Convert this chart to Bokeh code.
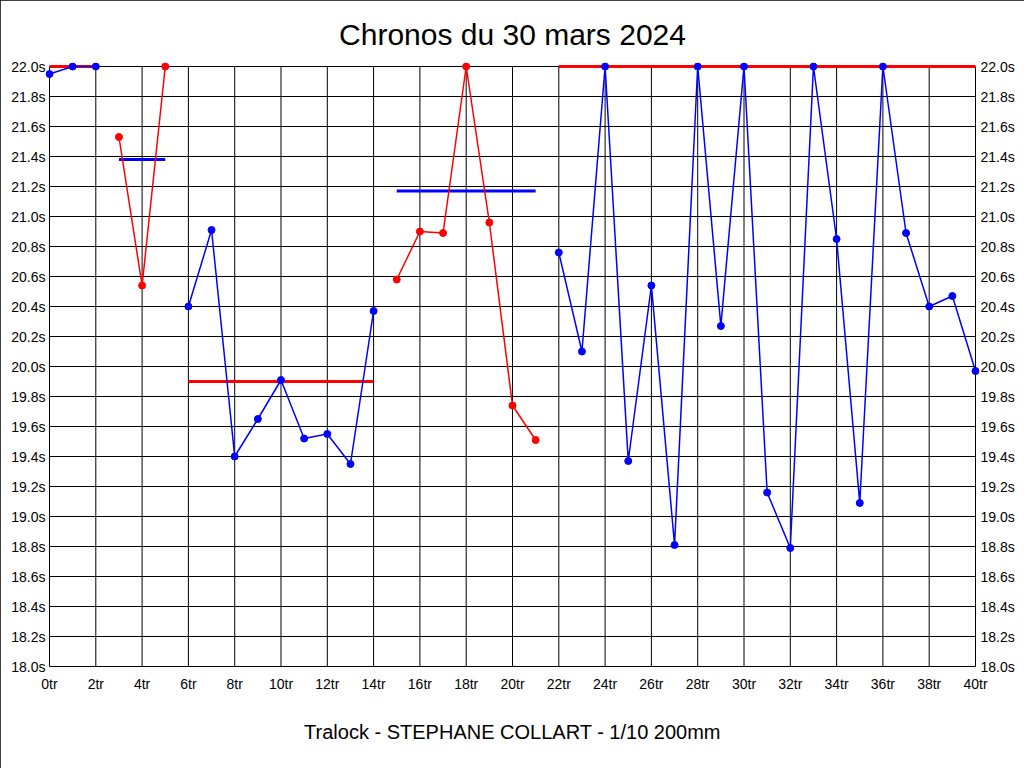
from bokeh.plotting import figure
from bokeh.models import FixedTicker, PrintfTickFormatter, LinearAxis, Title, Range1d
from bokeh.embed import file_html
from bokeh.resources import INLINE

# ---------------- data (lap number, lap time in seconds, capped at 22.0 on the chart) -------------
seg1_laps = [0, 1, 2]
seg1_times = [21.95, 22.0, 22.0]
seg1_avg = 22.0

seg2_laps = [3, 4, 5]
seg2_times = [21.53, 20.54, 22.0]
seg2_avg = 21.38

seg3_laps = [6, 7, 8, 9, 10, 11, 12, 13, 14]
seg3_times = [20.40, 20.91, 19.40, 19.65, 19.91, 19.52, 19.55, 19.35, 20.37]
seg3_avg = 19.90

seg4_laps = [15, 16, 17, 18, 19, 20, 21]
seg4_times = [20.58, 20.90, 20.89, 22.0, 20.96, 19.74, 19.51]
seg4_avg = 21.17

seg5_laps = [22, 23, 24, 25, 26, 27, 28, 29, 30, 31, 32, 33, 34, 35, 36, 37, 38, 39, 40]
seg5_times = [20.76, 20.10, 22.0, 19.37, 20.54, 18.81, 22.0, 20.27, 22.0, 19.16,
              18.79, 22.0, 20.85, 19.09, 22.0, 20.89, 20.40, 20.47, 19.97]
seg5_avg = 22.0

x_ticks = [0, 2, 4, 6, 8, 10, 12, 14, 16, 18, 20, 22, 24, 26, 28, 30, 32, 34, 36, 38, 40]
y_ticks = [18.0, 18.2, 18.4, 18.6, 18.8, 19.0, 19.2, 19.4, 19.6, 19.8,
           20.0, 20.2, 20.4, 20.6, 20.8, 21.0, 21.2, 21.4, 21.6, 21.8, 22.0]

title_text = "Chronos du 30 mars 2024"
footer_text = "Tralock - STEPHANE COLLART - 1/10 200mm"

BLUE = "#0000ff"
RED = "#ff0000"

segments = [
    (seg1_laps, seg1_times, BLUE, seg1_avg, RED),
    (seg2_laps, seg2_times, RED, seg2_avg, BLUE),
    (seg3_laps, seg3_times, BLUE, seg3_avg, RED),
    (seg4_laps, seg4_times, RED, seg4_avg, BLUE),
    (seg5_laps, seg5_times, BLUE, seg5_avg, RED),
]

# ---------------- layout ----------------
W, H = 1024, 768
PAD = 4  # px of breathing room so edge markers are not clipped
x0, x1 = x_ticks[0], x_ticks[-1]
y0, y1 = y_ticks[0], y_ticks[-1]
px_x = (x1 - x0) / 926.0
px_y = (y1 - y0) / 600.0

FONT = "Liberation Sans"

p = figure(width=W, height=H, output_backend="svg", toolbar_location=None,
           x_range=Range1d(x0 - PAD * px_x, x1 + PAD * px_x),
           y_range=Range1d(y0 - PAD * px_y, y1 + PAD * px_y),
           min_border_left=49 - PAD, min_border_right=W - 975 - PAD,
           min_border_top=66 - PAD, min_border_bottom=H - 666 - PAD,
           background_fill_color="white", border_fill_color="white")
p.outline_line_color = None
p.grid.visible = False

# grid drawn from the tick arrays
p.segment(x0=x_ticks, y0=[y0] * len(x_ticks), x1=x_ticks, y1=[y1] * len(x_ticks),
          line_color="black", line_width=1, level="underlay")
p.segment(x0=[x0] * len(y_ticks), y0=y_ticks, x1=[x1] * len(y_ticks), y1=y_ticks,
          line_color="black", line_width=1, level="underlay")

# axes
p.xaxis.ticker = FixedTicker(ticks=x_ticks)
p.xaxis.formatter = PrintfTickFormatter(format="%dtr")
p.yaxis.ticker = FixedTicker(ticks=y_ticks)
p.yaxis.formatter = PrintfTickFormatter(format="%.1fs")
ry = LinearAxis(ticker=FixedTicker(ticks=y_ticks), formatter=PrintfTickFormatter(format="%.1fs"))
p.add_layout(ry, "right")

for ax in [p.xaxis[0], p.yaxis[0], ry]:
    ax.axis_line_color = None
    ax.major_tick_line_color = None
    ax.minor_tick_line_color = None
    ax.major_tick_out = 0
    ax.major_tick_in = 0
    ax.minor_tick_out = 0
    ax.major_label_text_font = FONT
    ax.major_label_text_font_size = "14px"
    ax.major_label_text_color = "#000000"
p.xaxis.major_label_standoff = 5
p.yaxis[0].major_label_standoff = 0
ry.major_label_standoff = 1

# titles
p.title.text = title_text
p.title.align = "center"
p.title.text_font = FONT
p.title.text_font_size = "30px"
p.title.text_font_style = "normal"
p.title.text_color = "#000000"
p.title.standoff = 24

foot = Title(text=footer_text, align="center", text_font=FONT, text_font_size="20px",
             text_font_style="normal", text_color="#000000", standoff=48)
p.add_layout(foot, "below")

# data
for laps, times, col, avg, avg_col in segments:
    p.line(x=[laps[0], laps[-1]], y=[avg, avg], line_color=avg_col, line_width=3)
    p.line(x=laps, y=times, line_color=col, line_width=1.5)
    p.scatter(x=laps, y=times, size=7, fill_color=col, line_color=col)

p.styles = {"position": "absolute", "left": "0px", "top": "0px",
            "outline": "2px solid black", "outline-offset": "-2px"}

open("out.html", "w").write(file_html(p, INLINE))
